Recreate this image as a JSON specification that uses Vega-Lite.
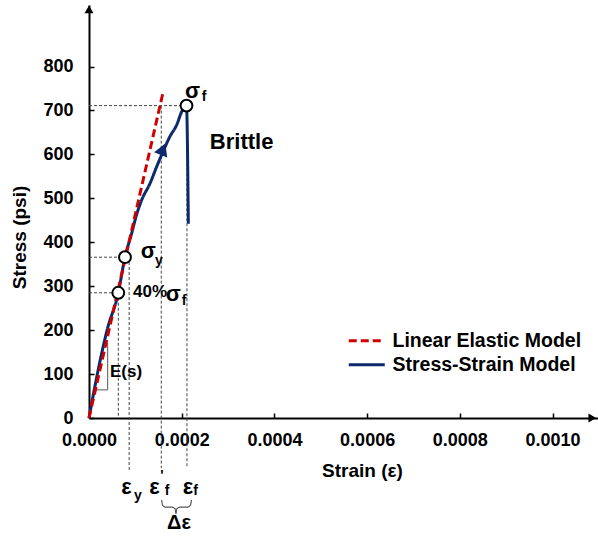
{
  "$schema": "https://vega.github.io/schema/vega-lite/v6.json",
  "width": 509,
  "height": 413,
  "autosize": {"type": "none"},
  "padding": {"left": 89, "top": 5, "right": 0, "bottom": 124},
  "background": "white",
  "config": {
    "font": "Liberation Sans",
    "view": {"stroke": null},
    "axis": {
      "grid": false,
      "domainColor": "black",
      "domainWidth": 2,
      "tickColor": "black",
      "tickWidth": 1.5,
      "labelFont": "Liberation Sans",
      "labelFontSize": 18,
      "labelFontWeight": "bold",
      "labelColor": "black",
      "labelFlush": false,
      "labelOverlap": false,
      "titleFont": "Liberation Sans",
      "titleFontSize": 19,
      "titleFontWeight": "bold",
      "titleColor": "black"
    }
  },
  "layer": [
    {
      "data": {"values": [
        {"x": 0, "x2": 0.0002103, "y": 711, "y2": 711},
        {"x": 0, "x2": 0.0000776, "y": 366, "y2": 366},
        {"x": 0, "x2": 0.0000632, "y": 285, "y2": 285},
        {"x": 0.0000632, "x2": 0.0000632, "y": 285, "y2": 0},
        {"x": 0.0000866, "x2": 0.0000866, "y": 355, "y2": -118},
        {"x": 0.0001559, "x2": 0.0001559, "y": 711, "y2": -114},
        {"x": 0.0002113, "x2": 0.0002113, "y": 705, "y2": -114}
      ]},
      "mark": {"type": "rule", "color": "#444", "strokeWidth": 1, "strokeDash": [3, 2]},
      "encoding": {
        "x": {"field": "x", "type": "quantitative",
          "scale": {"domain": [0, 0.001098], "nice": false, "zero": false},
          "axis": {"values": [0, 0.0002, 0.0004, 0.0006, 0.0008, 0.001], "format": ".4f",
            "tickSize": -5, "labelPadding": 18, "title": "Strain (ε)",
            "titleX": 273, "titleY": 52, "titleBaseline": "middle", "titleAlign": "center"}},
        "y": {"field": "y", "type": "quantitative",
          "scale": {"domain": [0, 940], "nice": false, "zero": false},
          "axis": {"values": [0, 100, 200, 300, 400, 500, 600, 700, 800], "format": "d",
            "tickSize": -5, "labelPadding": 21, "title": "Stress (psi)",
            "titleX": -70, "titleY": 232, "titleBaseline": "middle", "titleAlign": "center", "titleAngle": -90}},
        "x2": {"field": "x2"},
        "y2": {"field": "y2"}
      }
    },
    {
      "data": {"values": [
        {"x": 0.0000403, "x2": 0.0000403, "y": 171, "y2": 64},
        {"x": 0.0000129, "x2": 0.0000403, "y": 64, "y2": 64}
      ]},
      "mark": {"type": "rule", "color": "#555", "strokeWidth": 1},
      "encoding": {
        "x": {"field": "x", "type": "quantitative"},
        "y": {"field": "y", "type": "quantitative"},
        "x2": {"field": "x2"},
        "y2": {"field": "y2"}
      }
    },
    {
      "data": {"values": [
        {"model": "Stress-Strain Model", "i": 0, "x": 0, "y": 0},
        {"model": "Stress-Strain Model", "i": 1, "x": 0.0000180, "y": 100},
        {"model": "Stress-Strain Model", "i": 2, "x": 0.0000390, "y": 200},
        {"model": "Stress-Strain Model", "i": 3, "x": 0.0000632, "y": 285},
        {"model": "Stress-Strain Model", "i": 4, "x": 0.0000776, "y": 366},
        {"model": "Stress-Strain Model", "i": 5, "x": 0.0000920, "y": 420},
        {"model": "Stress-Strain Model", "i": 6, "x": 0.0001013, "y": 458},
        {"model": "Stress-Strain Model", "i": 7, "x": 0.0001136, "y": 496},
        {"model": "Stress-Strain Model", "i": 8, "x": 0.0001316, "y": 534},
        {"model": "Stress-Strain Model", "i": 9, "x": 0.0001460, "y": 572},
        {"model": "Stress-Strain Model", "i": 10, "x": 0.0001600, "y": 607},
        {"model": "Stress-Strain Model", "i": 11, "x": 0.0001747, "y": 641},
        {"model": "Stress-Strain Model", "i": 12, "x": 0.0001891, "y": 667},
        {"model": "Stress-Strain Model", "i": 13, "x": 0.0001999, "y": 697},
        {"model": "Stress-Strain Model", "i": 14, "x": 0.0002103, "y": 711},
        {"model": "Stress-Strain Model", "i": 15, "x": 0.0002143, "y": 442}
      ]},
      "mark": {"type": "line", "strokeWidth": 3, "interpolate": "monotone"},
      "encoding": {
        "x": {"field": "x", "type": "quantitative"},
        "y": {"field": "y", "type": "quantitative"},
        "order": {"field": "i", "type": "quantitative"},
        "color": {"field": "model", "type": "nominal",
          "scale": {"domain": ["Linear Elastic Model", "Stress-Strain Model"], "range": ["#d00000", "#0c2a6b"]},
          "legend": {"title": null, "orient": "none", "legendX": 268, "legendY": 326, "padding": 0,
            "symbolType": "M-3,0H3", "symbolSize": 144, "symbolStrokeWidth": 3, "labelOffset": 16,
            "labelFont": "Liberation Sans", "labelFontSize": 19.5, "labelFontWeight": "bold", "labelColor": "black",
            "rowPadding": 3, "labelLimit": 300}},
        "strokeDash": {"field": "model", "type": "nominal",
          "scale": {"domain": ["Linear Elastic Model", "Stress-Strain Model"], "range": [[8, 4], [1, 0]]}}
      }
    },
    {
      "data": {"values": [
        {"model": "Linear Elastic Model", "i": 0, "x": 0, "y": 0},
        {"model": "Linear Elastic Model", "i": 1, "x": 0.0001597, "y": 741}
      ]},
      "mark": {"type": "line", "strokeWidth": 3},
      "encoding": {
        "x": {"field": "x", "type": "quantitative"},
        "y": {"field": "y", "type": "quantitative"},
        "order": {"field": "i", "type": "quantitative"},
        "color": {"field": "model", "type": "nominal"},
        "strokeDash": {"field": "model", "type": "nominal"}
      }
    },
    {
      "data": {"values": [{"x": 0.0001596, "y": 612}]},
      "mark": {"type": "point", "shape": "triangle-up", "filled": true, "color": "#0c2a6b", "size": 200, "angle": 22, "opacity": 1},
      "encoding": {
        "x": {"field": "x", "type": "quantitative"},
        "y": {"field": "y", "type": "quantitative"}
      }
    },
    {
      "data": {"values": [
        {"x": 0.0002103, "y": 711},
        {"x": 0.0000776, "y": 366},
        {"x": 0.0000632, "y": 285}
      ]},
      "mark": {"type": "point", "shape": "circle", "filled": true, "fill": "white", "stroke": "black", "strokeWidth": 2, "size": 140, "opacity": 1},
      "encoding": {
        "x": {"field": "x", "type": "quantitative"},
        "y": {"field": "y", "type": "quantitative"}
      }
    },
    {
      "data": {"values": [{"x": 0, "y": 930}]},
      "mark": {"type": "point", "shape": "triangle-up", "filled": true, "color": "black", "size": 81, "opacity": 1},
      "encoding": {
        "x": {"field": "x", "type": "quantitative"},
        "y": {"field": "y", "type": "quantitative"}
      }
    },
    {
      "data": {"values": [{"x": 0.0010858, "y": 0}]},
      "mark": {"type": "point", "shape": "triangle-right", "filled": true, "color": "black", "size": 81, "opacity": 1},
      "encoding": {
        "x": {"field": "x", "type": "quantitative"},
        "y": {"field": "y", "type": "quantitative"}
      }
    },
    {
      "data": {"values": [
        {"g": "left", "i": 0, "x": 0.0001568, "y": -186.7},
        {"g": "left", "i": 1, "x": 0.0001585, "y": -198.1},
        {"g": "left", "i": 2, "x": 0.0001639, "y": -202.7},
        {"g": "left", "i": 3, "x": 0.0001790, "y": -202.7},
        {"g": "left", "i": 4, "x": 0.0001855, "y": -206.1},
        {"g": "left", "i": 5, "x": 0.0001876, "y": -217.5},
        {"g": "right", "i": 0, "x": 0.0001876, "y": -217.5},
        {"g": "right", "i": 1, "x": 0.0001898, "y": -206.1},
        {"g": "right", "i": 2, "x": 0.0001963, "y": -202.7},
        {"g": "right", "i": 3, "x": 0.0002135, "y": -202.7},
        {"g": "right", "i": 4, "x": 0.0002189, "y": -198.1},
        {"g": "right", "i": 5, "x": 0.0002210, "y": -186.7}
      ]},
      "mark": {"type": "line", "color": "#555", "strokeWidth": 1.2, "interpolate": "monotone"},
      "encoding": {
        "x": {"field": "x", "type": "quantitative"},
        "y": {"field": "y", "type": "quantitative"},
        "detail": {"field": "g"},
        "order": {"field": "i", "type": "quantitative"}
      }
    },
    {
      "data": {"values": [
        {"t": "σ", "x": 0.0002232, "y": 745},
        {"t": "σ", "x": 0.0001279, "y": 380},
        {"t": "σ", "x": 0.0001818, "y": 282},
        {"t": "ε", "x": 0.0000810, "y": -157},
        {"t": "ε", "x": 0.0001413, "y": -157},
        {"t": "ε", "x": 0.0002135, "y": -157}
      ]},
      "mark": {"type": "text", "fontSize": 22, "fontWeight": "bold", "align": "center", "baseline": "middle", "color": "black"},
      "encoding": {
        "x": {"field": "x", "type": "quantitative"},
        "y": {"field": "y", "type": "quantitative"},
        "text": {"field": "t"}
      }
    },
    {
      "data": {"values": [
        {"t": "f", "x": 0.000248, "y": 731},
        {"t": "y", "x": 0.000151, "y": 357},
        {"t": "f", "x": 0.0002049, "y": 266},
        {"t": "y", "x": 0.0001057, "y": -177},
        {"t": "'", "x": 0.0001574, "y": -132},
        {"t": "f", "x": 0.0001682, "y": -166},
        {"t": "f", "x": 0.0002297, "y": -166}
      ]},
      "mark": {"type": "text", "fontSize": 14, "fontWeight": "bold", "align": "center", "baseline": "middle", "color": "black"},
      "encoding": {
        "x": {"field": "x", "type": "quantitative"},
        "y": {"field": "y", "type": "quantitative"},
        "text": {"field": "t"}
      }
    },
    {
      "data": {"values": [{"t": "Brittle", "x": 0.0003293, "y": 629}]},
      "mark": {"type": "text", "fontSize": 22, "fontWeight": "bold", "align": "center", "baseline": "middle", "color": "black"},
      "encoding": {
        "x": {"field": "x", "type": "quantitative"},
        "y": {"field": "y", "type": "quantitative"},
        "text": {"field": "t"}
      }
    },
    {
      "data": {"values": [
        {"t": "40%", "x": 0.0000949, "y": 286},
        {"t": "E(s)", "x": 0.0000453, "y": 105}
      ]},
      "mark": {"type": "text", "fontSize": 17, "fontWeight": "bold", "align": "left", "baseline": "middle", "color": "black"},
      "encoding": {
        "x": {"field": "x", "type": "quantitative"},
        "y": {"field": "y", "type": "quantitative"},
        "text": {"field": "t"}
      }
    },
    {
      "data": {"values": [{"t": "Δε", "x": 0.0001941, "y": -238}]},
      "mark": {"type": "text", "fontSize": 20, "fontWeight": "bold", "align": "center", "baseline": "middle", "color": "black"},
      "encoding": {
        "x": {"field": "x", "type": "quantitative"},
        "y": {"field": "y", "type": "quantitative"},
        "text": {"field": "t"}
      }
    }
  ]
}
